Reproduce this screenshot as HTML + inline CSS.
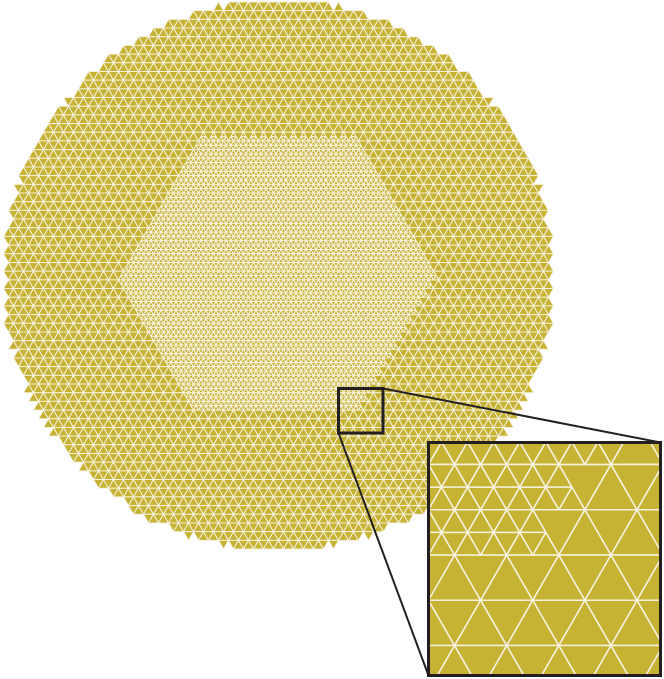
<!DOCTYPE html>
<html><head><meta charset="utf-8"><style>
html,body{margin:0;padding:0;background:#fff;overflow:hidden;}
svg{display:block;}
</style></head><body>
<svg id="fig" width="664" height="679" viewBox="0 0 664 679" xmlns="http://www.w3.org/2000/svg">
<defs>
<clipPath id="insetClip"><rect x="428.5" y="442.5" width="232" height="233"/></clipPath>
</defs>
<g id="mesh"></g>
<g id="insetView" clip-path="url(#insetClip)">
<rect x="428.5" y="442.5" width="232" height="233" fill="#c6b233"/>
</g>
<rect x="338.5" y="388.5" width="44.5" height="44.5" fill="none" stroke="#231f20" stroke-width="3"/>
<line x1="383" y1="388.5" x2="660.5" y2="442.5" stroke="#231f20" stroke-width="2"/>
<line x1="338.5" y1="433" x2="428.5" y2="675.5" stroke="#231f20" stroke-width="2"/>
<rect x="428.5" y="442.5" width="232" height="233" fill="none" stroke="#231f20" stroke-width="3"/>
</svg>
<script>
const NS="http://www.w3.org/2000/svg";
const side=[10];
const rows=[63];
const outerShape=[278.5,275.5,275];
const innerHex=[277,275,159];
const s=side[0], topY=2, H=547/rows[0];
const ocx=outerShape[0], ocy=outerShape[1], oR=outerShape[2];
const hcx=innerHex[0], hcy=innerHex[1], hR=innerHex[2];
function inOuter(x,y){
  const dx=x-ocx, dy=y-ocy;
  return dx*dx+dy*dy<=oR*oR;
}
function inHex(x,y){
  const dx=Math.abs(x-hcx), dy=Math.abs(y-hcy), r=hR*Math.sqrt(3)/2;
  return dy<=r && (Math.sqrt(3)*dx+dy)<=Math.sqrt(3)*hR;
}
const tris=[];
const ox=ocx-40*s;
for(let j=0;j<rows[0];j++){
  const y1=topY+j*H, y2=y1+H;
  for(let k=-40;k<90;k++){
    const a=ox+(k+j/2)*s;
    if(a<-20||a>600) continue;
    tris.push([[a,y1],[a-s/2,y2],[a+s/2,y2]]);
    tris.push([[a,y1],[a+s,y1],[a+s/2,y2]]);
  }
}
let fine="",coarse="";
function pts(t){return t.map(p=>p[0].toFixed(2)+","+p[1].toFixed(2)).join(" ");}
for(const t of tris){
  const cx=(t[0][0]+t[1][0]+t[2][0])/3, cy=(t[0][1]+t[1][1]+t[2][1])/3;
  if(!inOuter(cx,cy)) continue;
  if(inHex(cx,cy)){
    const m=(p,q)=>[(p[0]+q[0])/2,(p[1]+q[1])/2];
    const A=t[0],B=t[1],C=t[2],ab=m(A,B),bc=m(B,C),ca=m(C,A);
    for(const u of [[A,ab,ca],[ab,B,bc],[ca,bc,C],[ab,bc,ca]]) fine+='<polygon points="'+pts(u)+'"/>';
  } else coarse+='<polygon points="'+pts(t)+'"/>';
}
const mesh=document.getElementById('mesh');
mesh.innerHTML='<g fill="#c6b233" stroke="#f6f1de" stroke-width="1" stroke-linejoin="round">'+coarse+'</g>'+
 '<g fill="#c6b233" stroke="#f6f1de" stroke-width="1" stroke-linejoin="round">'+fine+'</g>';
const sc=232/44.5;
const inset=document.getElementById('insetView');
const g=document.createElementNS(NS,'g');


g.setAttribute('transform','translate(428.5,442.5) scale('+sc+') translate(-338.5,-388.5)');
g.innerHTML=mesh.innerHTML.replace(/stroke-width="1"/g,'stroke-width="0.3"');
inset.appendChild(g);
</script>
</body></html>
